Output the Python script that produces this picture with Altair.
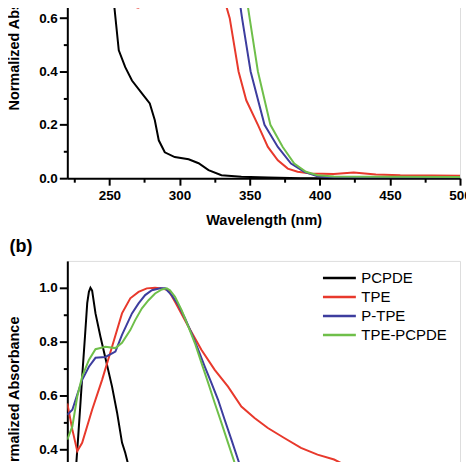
import altair as alt
import pandas as pd

series = ["PCPDE", "TPE", "P-TPE", "TPE-PCPDE"]
colors = ["#000000", "#e8392c", "#3d3d9e", "#6fbf4a"]
panel_label = ["(b)"]
x_title = "Wavelength (nm)"
y_title = "Normalized Absorbance"
x_ticks = [225, 250, 275, 300, 325, 350, 375, 400, 425, 450, 475, 500]
ya_ticks = [0.0, 0.1, 0.2, 0.3, 0.4, 0.5, 0.6]
yb_ticks = [0.3, 0.4, 0.5, 0.6, 0.7, 0.8, 0.9, 1.0]

# ---- panel (a) ----
a_pcpde_x = [252.5, 253.1, 254.3, 256.7, 261.3, 266.1, 273.2, 278.8, 282.4, 285.2, 289.5,
             296.6, 306.5, 313.6, 320.7, 329.9, 344.1, 363.2, 386.6, 500]
a_pcpde_y = [0.70, 0.665, 0.603, 0.479, 0.416, 0.366, 0.318, 0.280, 0.217, 0.142, 0.097,
             0.079, 0.071, 0.056, 0.030, 0.011, 0.005, 0.003, 0.0, 0.0]
a_tpe_x = [264, 266, 268, 270.5, 273, 275, 277, 331.3, 332.2, 335.8, 342.1, 347.6, 355.9,
           363.0, 370.1, 377.2, 384.2, 393.7, 410, 424.2, 440, 457.4, 480, 500]
a_tpe_y = [0.70, 0.655, 0.643, 0.639, 0.645, 0.66, 0.70, 0.70, 0.665, 0.60, 0.40, 0.292, 0.20,
           0.117, 0.067, 0.036, 0.024, 0.018, 0.016, 0.021, 0.014, 0.011, 0.010, 0.009]
a_ptpe_x = [341.8, 342.8, 344.6, 350.7, 360.6, 370.1, 379.5, 389.0, 398.4, 410, 450, 500]
a_ptpe_y = [0.70, 0.665, 0.60, 0.40, 0.20, 0.117, 0.055, 0.024, 0.007, 0.003, 0.002, 0.002]
a_tpecpde_x = [347.1, 348.1, 350.0, 355.9, 364.8, 373.6, 381.8, 390.1, 398.4, 410, 450, 500]
a_tpecpde_y = [0.70, 0.665, 0.60, 0.40, 0.20, 0.117, 0.055, 0.024, 0.011, 0.006, 0.005, 0.004]

# ---- panel (b) ----
b_pcpde_x = [225.9, 227.8, 229.4, 231.0, 232.6, 234.2, 235.4, 236.5, 237.7, 240.1, 243.6,
             247.2, 251.9, 255.5, 259.0, 261.3, 264.9, 267.3]
b_pcpde_y = [0.31, 0.45, 0.573, 0.70, 0.819, 0.943, 0.985, 1.0, 0.99, 0.905, 0.819,
             0.738, 0.633, 0.536, 0.425, 0.387, 0.313, 0.25]
b_tpe_x = [220, 223.6, 227.1, 230.6, 237.7, 244.8, 251.9, 259.0, 264.9, 270.8, 276.7, 282.6,
           287.4, 292.1, 296.8, 306.3, 315.7, 325.1, 334.6, 344.1, 353.5, 363.0, 374.7, 386.6,
           398.4, 410.2, 419.7, 429.1, 436.2, 450]
b_tpe_y = [0.57, 0.473, 0.393, 0.424, 0.547, 0.658, 0.781, 0.905, 0.961, 0.985, 0.998, 1.0,
           0.998, 0.991, 0.948, 0.856, 0.769, 0.695, 0.633, 0.559, 0.516, 0.479, 0.442, 0.405,
           0.380, 0.362, 0.337, 0.325, 0.313, 0.28]
b_ptpe_x = [220, 223.6, 227.1, 230.6, 235.4, 240.1, 247.2, 254.3, 259.0, 266.1, 270.8, 275.5,
            280.3, 286.2, 289.7, 294.4, 299.2, 303.9, 308.6, 313.4, 318.0, 322.8, 327.5, 332.2,
            337.0, 341.7, 345.3, 348]
b_ptpe_y = [0.528, 0.547, 0.603, 0.658, 0.707, 0.74, 0.743, 0.763, 0.825, 0.905, 0.942, 0.973,
            0.991, 0.998, 0.998, 0.973, 0.936, 0.887, 0.831, 0.769, 0.707, 0.646, 0.584, 0.51,
            0.436, 0.362, 0.306, 0.26]
b_tpecpde_x = [220, 223.6, 227.1, 230.6, 235.4, 240.1, 247.2, 254.3, 259.0, 264.9, 268.4, 273.2,
               277.9, 282.6, 287.4, 290.9, 293.2, 296.8, 301.5, 306.3, 311.0, 315.7, 320.5,
               325.1, 329.9, 334.6, 339.3, 342.9, 346]
b_tpecpde_y = [0.436, 0.485, 0.596, 0.67, 0.732, 0.772, 0.781, 0.776, 0.796, 0.843, 0.880, 0.924,
               0.954, 0.979, 0.994, 0.998, 0.991, 0.967, 0.917, 0.856, 0.794, 0.72, 0.646,
               0.572, 0.498, 0.424, 0.35, 0.306, 0.25]


def frame(xs, ys, name):
    return pd.DataFrame({"wl": xs, "absorb": ys, "series": name})


df_a = pd.concat([frame(a_pcpde_x, a_pcpde_y, series[0]), frame(a_tpe_x, a_tpe_y, series[1]),
                  frame(a_ptpe_x, a_ptpe_y, series[2]), frame(a_tpecpde_x, a_tpecpde_y, series[3])])
df_b = pd.concat([frame(b_pcpde_x, b_pcpde_y, series[0]), frame(b_tpe_x, b_tpe_y, series[1]),
                  frame(b_ptpe_x, b_ptpe_y, series[2]), frame(b_tpecpde_x, b_tpecpde_y, series[3])])

FONT = "Liberation Sans"
W = 394
color_scale = alt.Scale(domain=series, range=colors)

x_axis_a = alt.Axis(values=x_ticks, title=x_title, format="d",
                    labelExpr="datum.value % 50 == 0 ? datum.label : ''",
                    tickSize={"condition": {"test": "datum.value % 50 == 0", "value": 7}, "value": 4},
                    labelFlush=False, labelOverlap=False, labelPadding=3, titlePadding=12,
                    labelFont=FONT, labelFontSize=13.5, labelFontWeight="bold",
                    titleFont=FONT, titleFontSize=14.5, titleFontWeight="bold",
                    tickColor="black", tickWidth=2, domainColor="black", domainWidth=2,
                    labelColor="black", titleColor="black", grid=False)


def y_axis(ticks, ty):
    return alt.Axis(values=ticks, title=y_title, format=".1f",
                    labelExpr="round(datum.value * 10) % 2 == 0 ? datum.label : ''",
                    tickSize={"condition": {"test": "round(datum.value * 10) % 2 == 0", "value": 8},
                              "value": 4},
                    labelOverlap=False, labelFlush=False, labelPadding=2,
                    labelFont=FONT, labelFontSize=13.5, labelFontWeight="bold",
                    titleFont=FONT, titleFontSize=14.5, titleFontWeight="bold",
                    titleX=-46, titleY=ty,
                    tickColor="black", tickWidth=2, domainColor="black", domainWidth=2,
                    labelColor="black", titleColor="black", grid=False)


top = alt.Chart(df_a).mark_line(clip=True, strokeWidth=2).encode(
    x=alt.X("wl:Q", scale=alt.Scale(domain=[220, 500], nice=False, zero=False), axis=x_axis_a),
    y=alt.Y("absorb:Q", scale=alt.Scale(domain=[0, 0.665], nice=False, zero=False),
            axis=y_axis(ya_ticks, 27)),
    color=alt.Color("series:N", scale=color_scale, legend=None),
    order=alt.Order("wl:Q"),
).properties(width=W, height=178)

lines_b = alt.Chart(df_b).mark_line(clip=True, strokeWidth=2).encode(
    x=alt.X("wl:Q", scale=alt.Scale(domain=[220, 500], nice=False, zero=False), axis=None),
    y=alt.Y("absorb:Q", scale=alt.Scale(domain=[0.3, 1.1], nice=False, zero=False),
            axis=y_axis(yb_ticks, 138)),
    color=alt.Color("series:N", scale=color_scale, sort=series,
                    legend=alt.Legend(orient="none", legendX=255, legendY=8, title=None,
                                      symbolType="stroke", symbolSize=1089, symbolStrokeWidth=2.5,
                                      labelFont=FONT, labelFontSize=15, labelColor="black",
                                      labelOffset=4, rowPadding=0, clipHeight=18.5, padding=0)),
    order=alt.Order("wl:Q"),
)
label_b = alt.Chart(pd.DataFrame({"label": panel_label})).mark_text(
    align="left", baseline="alphabetic", fontSize=18, fontWeight="bold", font=FONT, color="black"
).encode(text="label:N", x=alt.value(-58), y=alt.value(-9))

bottom = alt.layer(lines_b, label_b).properties(width=W, height=216)

chart = alt.vconcat(top, bottom, spacing=83, bounds="flush").resolve_scale(
    color="independent").resolve_legend(color="independent").properties(
    padding={"top": -65, "bottom": -22.5, "left": -2.5, "right": -6}
).configure_view(stroke="black", strokeWidth=2).configure(background="white")

chart.save("out.html", embed_options={"renderer": "svg", "actions": False})
